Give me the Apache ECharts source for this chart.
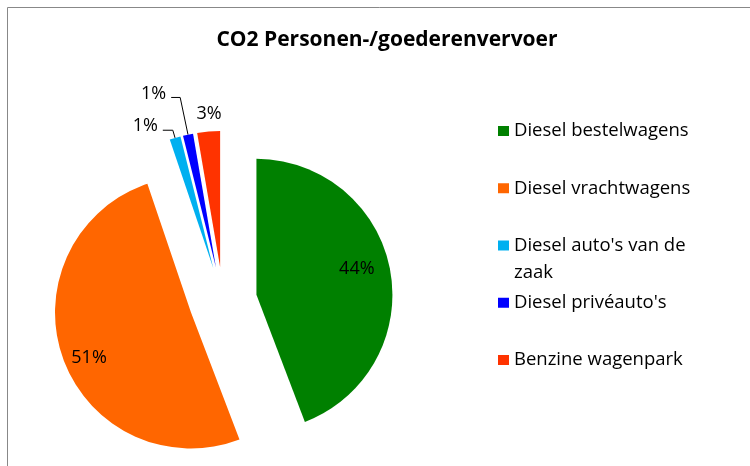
<!DOCTYPE html>
<html>
<head>
<meta charset="utf-8">
<script src="https://cdn.jsdelivr.net/npm/echarts@6/dist/echarts.min.js"></script>
<style>
  html, body { margin: 0; padding: 0; background: #fff; }
  #chart { width: 750px; height: 466px; }
</style>
</head>
<body>
<div id="chart"></div>
<script>
const title = 'CO2 Personen-/goederenvervoer'
const categories = ['Diesel bestelwagens', 'Diesel vrachtwagens', "Diesel auto's van de zaak", "Diesel privéauto's", 'Benzine wagenpark']
const shares = [44.2, 50.6, 1.3, 1.2, 2.7]
const colors = ['#008000', '#FF6600', '#00B0F0', '#0000FF', '#FF3300']

const FONT = 'Open Sans'
const PIE_CENTER = [223, 301]
const PIE_RADIUS = 136
const EXPLODE = 34
const WRAPPED = "Diesel auto's van de zaak"

// inside labels for the big slices (radius fraction + small angle nudge),
// leader lines for the thin ones
const labelStyles = [
  { position: 'inside', radial: 0.74, nudge: -4 },
  { position: 'inside', radial: 0.8, nudge: -4.5 },
  { position: 'outside', line: true, length: 8, length2: 10, shift: [0, -4] },
  { position: 'outside', line: true, length: 38, length2: 9, shift: [0, -4] },
  { position: 'outside', line: false, length: 10, length2: 0, shift: [19, -8] }
]

const total = shares.reduce((a, b) => a + b, 0)

// bisector angle, clockwise from 12 o'clock
function midAngle (i) {
  let before = 0
  for (let j = 0; j < i; j++) before += shares[j]
  return (before + shares[i] / 2) / total * 2 * Math.PI
}

const chart = echarts.init(document.getElementById('chart'), null, { renderer: 'canvas' })

const legendStep = 57.25
const legendFirst = 131
const lineH = 27

chart.setOption({
  animation: false,
  color: colors,
  title: {
    text: title,
    left: 382,
    textAlign: 'center',
    top: 25,
    textStyle: { fontFamily: FONT, fontSize: 21, fontWeight: 'bold', color: '#000' }
  },
  graphic: [{
    type: 'rect',
    shape: { x: 7.5, y: 7.5, width: 800, height: 500 },
    style: { fill: 'none', stroke: '#888', lineWidth: 1 },
    silent: true
  }],
  legend: categories.map((name, i) => {
    const wrapped = name === WRAPPED
    return {
      data: [wrapped ? { name, textStyle: { width: 185, overflow: 'break' } } : name],
      // blank first line keeps the icon level with the first text line
      formatter: (n) => (n === WRAPPED ? '\n' + n : n),
      orient: 'vertical',
      left: 498,
      top: legendFirst + i * legendStep - lineH / 2 - (wrapped ? lineH : 0),
      padding: 0,
      icon: 'rect',
      itemWidth: 11,
      itemHeight: 10,
      selectedMode: false,
      textStyle: { fontFamily: FONT, fontSize: 18.5, color: '#000', lineHeight: lineH }
    }
  }),
  series: [{
    type: 'pie',
    center: PIE_CENTER,
    radius: PIE_RADIUS,
    startAngle: 90,
    clockwise: true,
    selectedMode: 'multiple',
    selectedOffset: EXPLODE,
    avoidLabelOverlap: false,
    percentPrecision: 0,
    emphasis: { scale: false },
    label: {
      formatter: '{d}%',
      fontFamily: FONT,
      fontSize: 18,
      color: '#000'
    },
    labelLine: {
      lineStyle: { color: '#000', width: 1 },
      smooth: false
    },
    labelLayout: (params) => {
      const i = params.dataIndex
      const s = labelStyles[i]
      if (s.position === 'inside') {
        const a = midAngle(i)
        const b = a + s.nudge * Math.PI / 180
        const r0 = PIE_RADIUS * 0.5
        const r1 = PIE_RADIUS * s.radial
        return {
          dx: Math.sin(b) * r1 - Math.sin(a) * r0,
          dy: -Math.cos(b) * r1 + Math.cos(a) * r0
        }
      }
      if (s.shift) return { dx: s.shift[0], dy: s.shift[1] }
      return {}
    },
    data: categories.map((name, i) => {
      const s = labelStyles[i]
      return {
        name,
        value: shares[i],
        selected: true,
        label: { position: s.position },
        labelLine: s.position === 'inside'
          ? { show: false }
          : { show: s.line, length: s.length, length2: s.length2 }
      }
    })
  }]
})
</script>
</body>
</html>
